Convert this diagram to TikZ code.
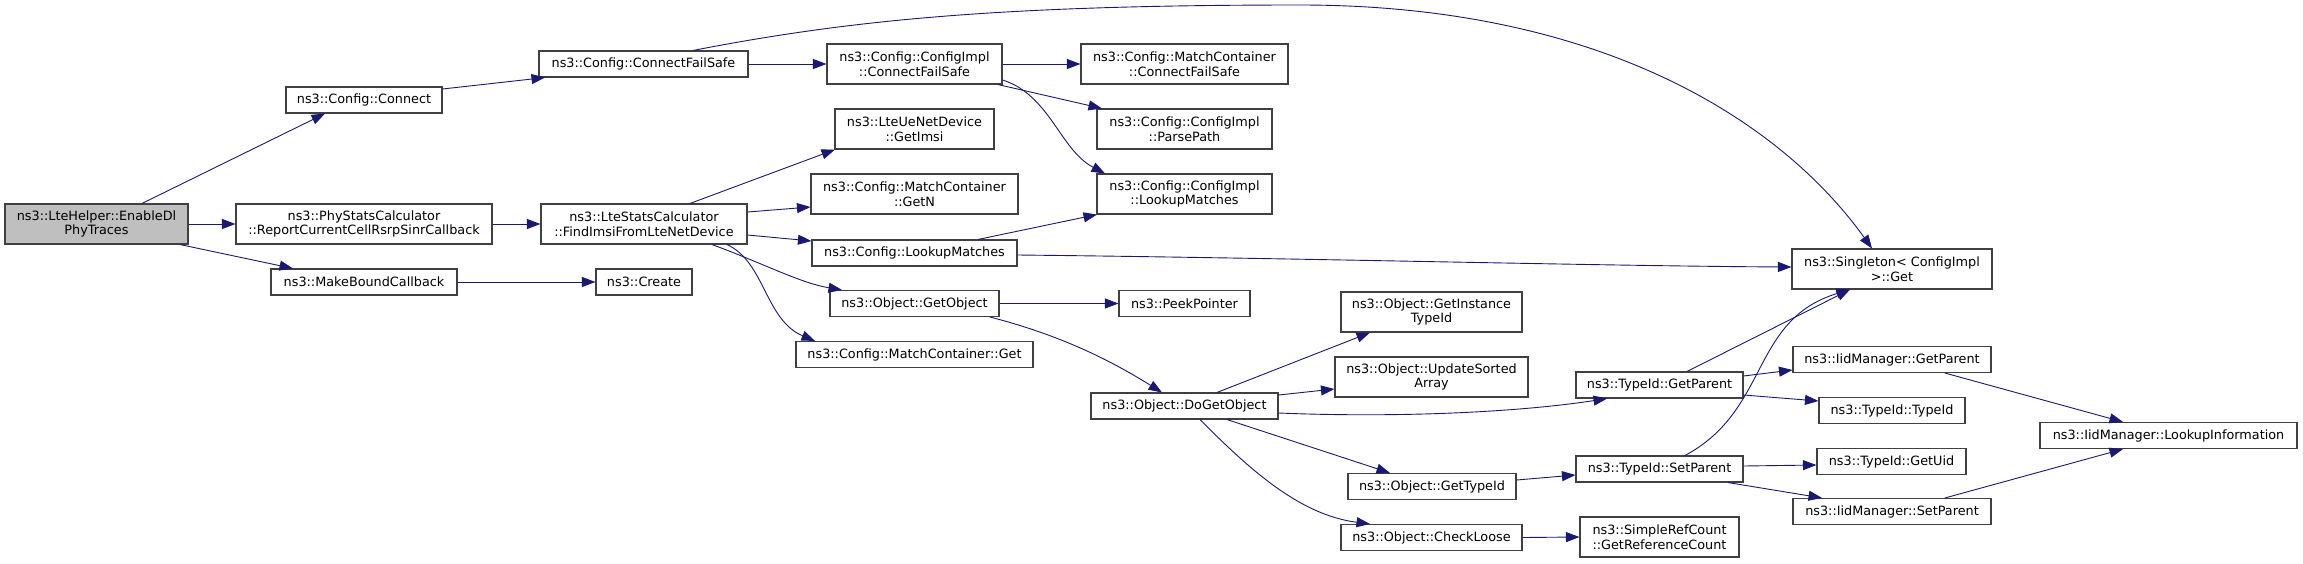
\documentclass[tikz,border=0pt]{standalone}
\usepackage{fontspec}
\setmainfont{DejaVu Sans}
\usetikzlibrary{arrows.meta}
\definecolor{edgec}{HTML}{191970}
\definecolor{rootfill}{HTML}{BFBFBF}
\definecolor{boxline}{HTML}{404040}
\begin{document}
\begin{tikzpicture}[x=1pt,y=-1pt,
  box/.style={draw=boxline, line width=1.1pt, fill=white, inner sep=0pt, minimum height=26pt, align=center, font=\fontsize{12.8}{14.7}\selectfont, text=black},
  box2/.style={box, minimum height=40pt},
  edge/.style={draw=edgec, line width=0.9pt, -{Triangle[length=13.5pt,width=10pt]}}]
\useasboundingbox (0,0) rectangle (2303,563);

\node[box2, fill=rootfill, minimum width=183pt] (root) at (96.5,224) {ns3::LteHelper::EnableDl\\PhyTraces};
\node[box, minimum width=156pt] (connect) at (364,100) {ns3::Config::Connect};
\node[box2, minimum width=256pt] (phystats) at (364,224) {ns3::PhyStatsCalculator\\::ReportCurrentCellRsrpSinrCallback};
\node[box, minimum width=186pt] (mbc) at (364,282) {ns3::MakeBoundCallback};
\node[box, minimum width=209pt] (cfs) at (643.5,64) {ns3::Config::ConnectFailSafe};
\node[box2, minimum width=206pt] (ltestats) at (644,224) {ns3::LteStatsCalculator\\::FindImsiFromLteNetDevice};
\node[box, minimum width=96pt] (create) at (644,282) {ns3::Create};
\node[box2, minimum width=175pt] (implcfs) at (914.5,64) {ns3::Config::ConfigImpl\\::ConnectFailSafe};
\node[box2, minimum width=159pt] (getimsi) at (914.5,129) {ns3::LteUeNetDevice\\::GetImsi};
\node[box2, minimum width=207pt] (getn) at (914.5,194) {ns3::Config::MatchContainer\\::GetN};
\node[box, minimum width=205pt] (lookup) at (914.5,253) {ns3::Config::LookupMatches};
\node[box, minimum width=169pt] (getobject) at (914.5,303.5) {ns3::Object::GetObject};
\node[box, minimum width=237pt] (mcget) at (914.5,354.5) {ns3::Config::MatchContainer::Get};
\node[box2, minimum width=207pt] (mccfs) at (1184.5,64) {ns3::Config::MatchContainer\\::ConnectFailSafe};
\node[box2, minimum width=175pt] (parsepath) at (1184.5,129) {ns3::Config::ConfigImpl\\::ParsePath};
\node[box2, minimum width=175pt] (impllookup) at (1184.5,194) {ns3::Config::ConfigImpl\\::LookupMatches};
\node[box, minimum width=131pt] (peek) at (1184.5,303.5) {ns3::PeekPointer};
\node[box, minimum width=187pt] (dogetobj) at (1184.5,406) {ns3::Object::DoGetObject};
\node[box2, minimum width=200pt] (singleton) at (1892,269) {ns3::Singleton< ConfigImpl\\>::Get};
\node[box2, minimum width=181pt] (instance) at (1431.5,312) {ns3::Object::GetInstance\\TypeId};
\node[box2, minimum width=193pt] (updsorted) at (1431.5,377) {ns3::Object::UpdateSorted\\Array};
\node[box, minimum width=168pt] (objtypeid) at (1432,486.5) {ns3::Object::GetTypeId};
\node[box, minimum width=181pt] (checkloose) at (1431.5,537.5) {ns3::Object::CheckLoose};
\node[box, minimum width=167pt] (tgetparent) at (1659.5,385) {ns3::TypeId::GetParent};
\node[box, minimum width=167pt] (tsetparent) at (1659.5,469) {ns3::TypeId::SetParent};
\node[box2, minimum width=159pt] (simpleref) at (1659.5,537) {ns3::SimpleRefCount\\::GetReferenceCount};
\node[box, minimum width=198pt] (iidgetparent) at (1892,359.5) {ns3::IidManager::GetParent};
\node[box, minimum width=146pt] (typeidtypeid) at (1892,410.5) {ns3::TypeId::TypeId};
\node[box, minimum width=149pt] (getuid) at (1891.5,461.5) {ns3::TypeId::GetUid};
\node[box, minimum width=198pt] (iidsetparent) at (1892,511.5) {ns3::IidManager::SetParent};
\node[box, minimum width=257pt] (lookupinfo) at (2168.5,435.5) {ns3::IidManager::LookupInformation};

\draw[edge] ([xshift=45.5pt]root.north) -- ([xshift=-39pt]connect.south);
\draw[edge] (root.east) -- (phystats.west);
\draw[edge] ([xshift=83.5pt]root.south) -- ([xshift=-71pt]mbc.north);
\draw[edge] (phystats.east) -- (ltestats.west);
\draw[edge] ([yshift=11pt]connect.east) -- ([xshift=-98.5pt]cfs.south);
\draw[edge] ([xshift=49.5pt]cfs.north) .. controls (850,20) and (1000,5) .. (1300,5) .. controls (1600,5) and (1780,120) .. ([xshift=-20pt]singleton.north);
\draw[edge] (cfs.east) -- (implcfs.west);
\draw[edge] (implcfs.east) -- (mccfs.west);
\draw[edge] ([xshift=83.5pt]implcfs.south) -- ([xshift=-82.5pt]parsepath.north);
\draw[edge] ([yshift=-16pt]implcfs.east) .. controls (1050,95) and (1060,150) .. ([xshift=-79.5pt]impllookup.north);
\draw[edge] ([xshift=46pt]ltestats.north) -- ([xshift=-79.5pt]getimsi.south);
\draw[edge] ([yshift=12pt]ltestats.east) -- ([yshift=-13pt]getn.west);
\draw[edge] ([yshift=-11pt]ltestats.east) -- ([yshift=12pt]lookup.west);
\draw[edge] ([xshift=68pt]ltestats.south) .. controls (760,262) and (800,283) .. ([xshift=-72.5pt]getobject.north);
\draw[edge] ([xshift=83pt]ltestats.south) .. controls (765,262) and (765,320) .. ([xshift=-99.5pt]mcget.north);
\draw[edge] (mbc.east) -- (create.west);
\draw[edge] ([xshift=63.5pt]lookup.north) -- ([xshift=-87.5pt]impllookup.south);
\draw[edge] ([yshift=-2pt]lookup.east) .. controls (1300,258) and (1600,266) .. ([yshift=2pt]singleton.west);
\draw[edge] (getobject.east) -- (peek.west);
\draw[edge] ([xshift=75.5pt]getobject.south) .. controls (1060,335) and (1110,360) .. ([xshift=-22.5pt]dogetobj.north);
\draw[edge] ([xshift=32.5pt]dogetobj.north) -- ([xshift=-61.5pt]instance.south);
\draw[edge] ([yshift=11pt]dogetobj.east) -- ([yshift=-12pt]updsorted.west);
\draw[edge] ([yshift=-7pt]dogetobj.east) .. controls (1400,418) and (1520,412) .. ([xshift=-52.5pt]tgetparent.south);
\draw[edge] ([xshift=42.5pt]dogetobj.south) -- ([xshift=-42pt]objtypeid.north);
\draw[edge] ([xshift=15.5pt]dogetobj.south) .. controls (1250,470) and (1300,515) .. ([xshift=-61.5pt]checkloose.north);
\draw[edge] ([yshift=6.5pt]objtypeid.east) -- ([yshift=-6pt]tsetparent.west);
\draw[edge] (checkloose.east) -- (simpleref.west);
\draw[edge] ([xshift=27.5pt]tgetparent.north) -- ([xshift=-42pt]singleton.south);
\draw[edge] ([yshift=9pt]tgetparent.east) -- ([yshift=-10.5pt]iidgetparent.west);
\draw[edge] ([yshift=-10pt]tgetparent.east) -- ([yshift=9.5pt]typeidtypeid.west);
\draw[edge] ([xshift=25.5pt]tsetparent.north) .. controls (1770,410) and (1750,320) .. ([xshift=-42pt]singleton.south);
\draw[edge] ([yshift=3pt]tsetparent.east) -- ([yshift=-3.5pt]getuid.west);
\draw[edge] ([xshift=68.5pt]tsetparent.south) -- ([xshift=-70pt]iidsetparent.north);
\draw[edge] ([xshift=53pt]iidgetparent.south) -- ([xshift=-45.5pt]lookupinfo.north);
\draw[edge] ([xshift=53pt]iidsetparent.north) -- ([xshift=-45.5pt]lookupinfo.south);
\end{tikzpicture}
\end{document}
